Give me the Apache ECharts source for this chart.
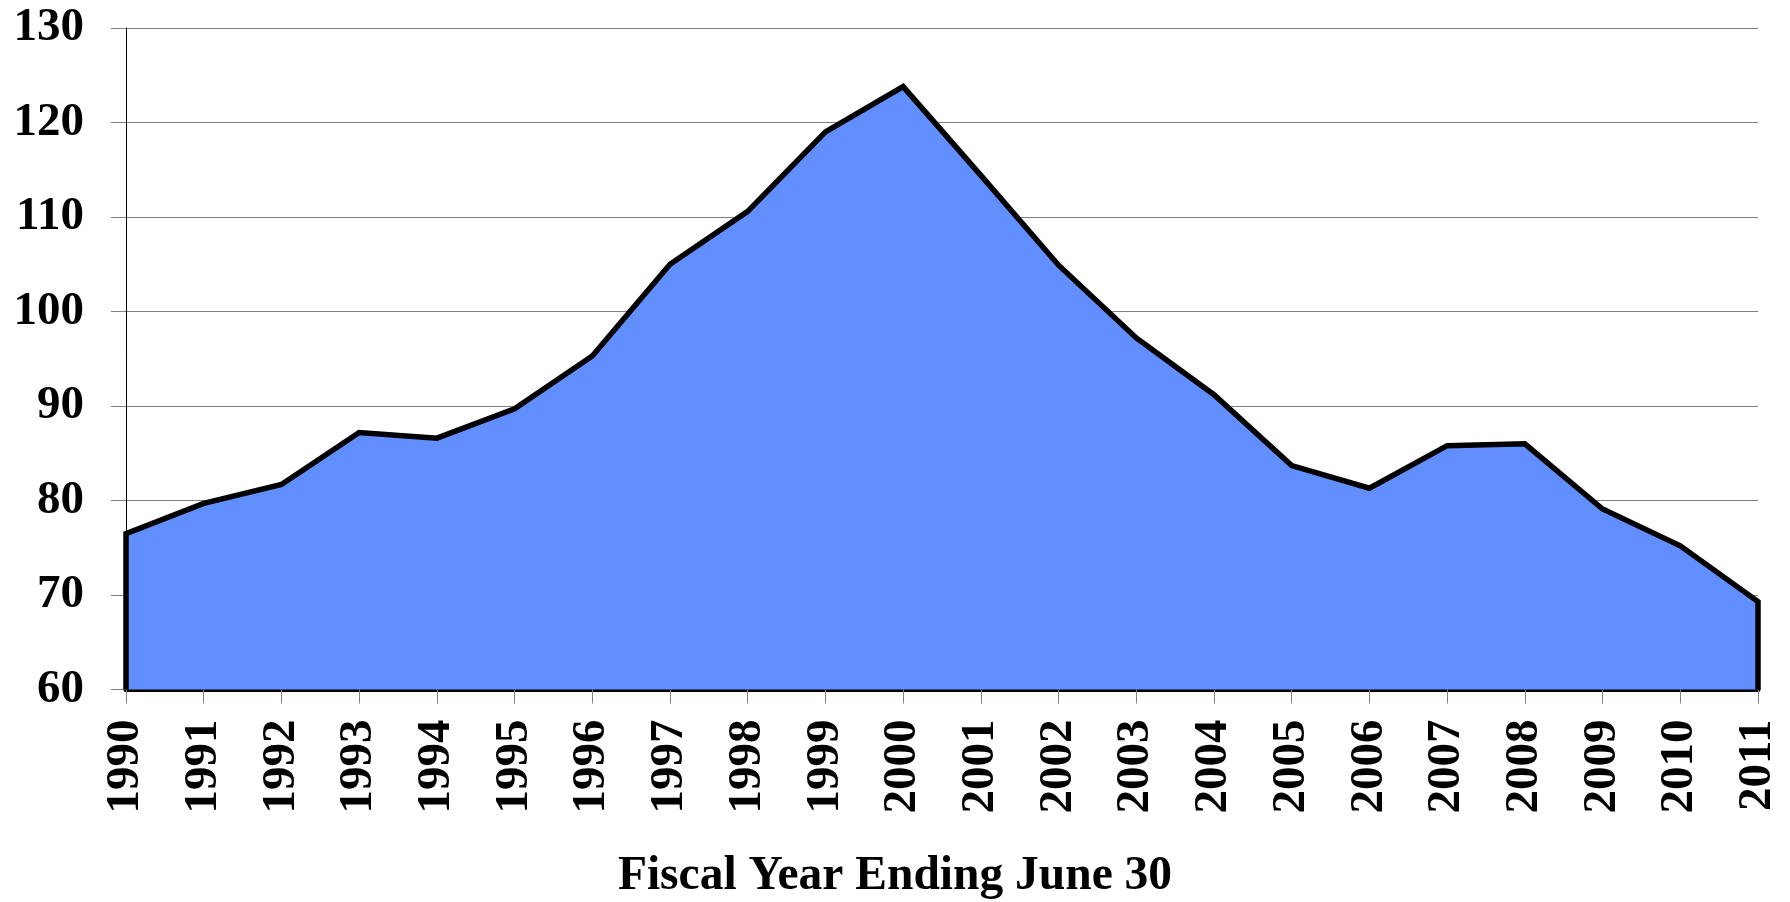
<!DOCTYPE html>
<html>
<head>
<meta charset="utf-8">
<script src="https://cdn.jsdelivr.net/npm/echarts@6/dist/echarts.min.js"></script>
<style>
html,body{margin:0;padding:0;background:#fff;}
#chart{width:1790px;height:902px;}
</style>
</head>
<body>
<div id="chart"></div>
<script>
// ---- data ----
var years = [1990,1991,1992,1993,1994,1995,1996,1997,1998,1999,2000,2001,2002,2003,2004,2005,2006,2007,2008,2009,2010,2011];
var values = [76.5,79.7,81.7,87.2,86.6,89.7,95.3,105.0,110.6,119.0,123.8,114.4,104.9,97.2,91.2,83.7,81.3,85.8,86.0,79.1,75.2,69.3];
var yMin = 60, yMax = 130, yStep = 10;
var xTitle = 'Fiscal Year Ending June 30';

// closed outline: baseline at first & last year
var pts = [[years[0], yMin]];
for (var i = 0; i < years.length; i++) pts.push([years[i], values[i]]);
pts.push([years[years.length - 1], yMin]);

var FONT = '"Liberation Serif", "Times New Roman", serif';
var chart = echarts.init(document.getElementById('chart'), null, {renderer: 'canvas'});
chart.setOption({
  animation: false,
  backgroundColor: '#ffffff',
  title: {
    text: xTitle,
    left: 'center',
    top: 848,
    textStyle: {fontFamily: FONT, fontWeight: 'bold', fontSize: 47.5, color: '#000'}
  },
  grid: {left: 126, right: 32, top: 28, bottom: 212.5, containLabel: false},
  xAxis: {
    type: 'value',
    min: years[0],
    max: years[years.length - 1],
    interval: 1,
    axisLine: {show: true, onZero: false, lineStyle: {color: '#000', width: 5}},
    axisTick: {show: true, length: 14, lineStyle: {color: '#808080', width: 1}},
    axisLabel: {
      rotate: 90,
      margin: 30,
      fontFamily: FONT, fontWeight: 'bold', fontSize: 47, color: '#000',
      formatter: function (v) { return String(v); }
    },
    splitLine: {show: false}
  },
  yAxis: {
    type: 'value',
    min: yMin,
    max: yMax,
    interval: yStep,
    axisLine: {show: true, lineStyle: {color: '#000', width: 1}},
    axisTick: {show: true, length: 15, lineStyle: {color: '#808080', width: 1}},
    axisLabel: {
      margin: 42,
      fontFamily: FONT, fontWeight: 'bold', fontSize: 47, color: '#000'
    },
    splitLine: {show: true, lineStyle: {color: '#808080', width: 1}}
  },
  series: [{
    type: 'line',
    data: pts,
    showSymbol: false,
    symbol: 'none',
    clip: false,
    z: 3,
    lineStyle: {color: '#000', width: 5.5, join: 'miter'},
    areaStyle: {color: '#628FFF', opacity: 1, origin: 'start'}
  }]
});
</script>
</body>
</html>
